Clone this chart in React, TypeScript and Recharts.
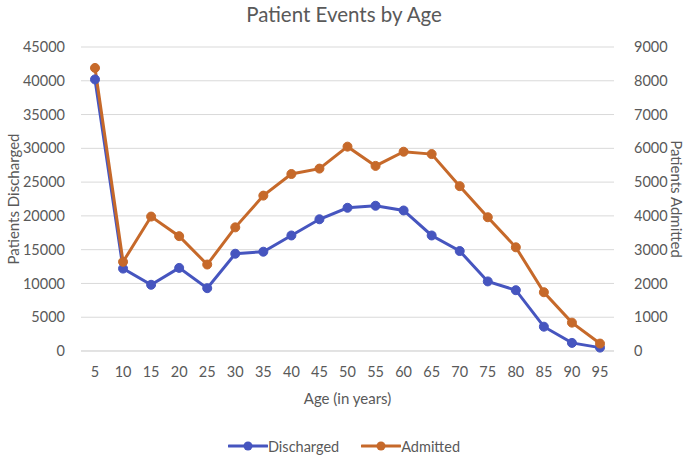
import { LineChart, Line, XAxis, YAxis, CartesianGrid, Legend } from 'recharts'

const AGES = ['5', '10', '15', '20', '25', '30', '35', '40', '45', '50', '55', '60', '65', '70', '75', '80', '85', '90', '95']
const DISCHARGED = [40200, 12200, 9800, 12300, 9300, 14400, 14700, 17100, 19500, 21200, 21500, 20800, 17100, 14800, 10300, 9000, 3600, 1200, 500]
const ADMITTED = [8380, 2640, 3980, 3400, 2560, 3660, 4600, 5240, 5400, 6050, 5480, 5900, 5830, 4880, 3960, 3070, 1740, 840, 220]
const LEFT_TICKS = [0, 5000, 10000, 15000, 20000, 25000, 30000, 35000, 40000, 45000]
const RIGHT_TICKS = [0, 1000, 2000, 3000, 4000, 5000, 6000, 7000, 8000, 9000]

const BLUE = '#4655BF'
const ORANGE = '#C6692A'
const TEXT = '#595959'
const GRID = '#d9d9d9'
const FONT = 'Lato, "Open Sans", sans-serif'

const data = AGES.map((age, i) => ({
  age,
  discharged: DISCHARGED[i],
  admitted: ADMITTED[i],
}))

function LegendContent() {
  const items = [
    { name: 'Discharged', color: BLUE },
    { name: 'Admitted', color: ORANGE },
  ]
  return (
    <div style={{ display: 'flex', justifyContent: 'center', gap: 22, fontFamily: FONT, fontSize: 14.5, color: TEXT, height: 20, alignItems: 'center' }}>
      {items.map((it) => (
        <div key={it.name} style={{ display: 'flex', alignItems: 'center' }}>
          <svg width={40} height={12}>
            <line x1={1} y1={6} x2={39} y2={6} stroke={it.color} strokeWidth={3} strokeLinecap="round" />
            <circle cx={20} cy={6} r={4.5} fill={it.color} />
          </svg>
          <span>{it.name}</span>
        </div>
      ))}
    </div>
  )
}

export default function App() {
  return (
    <div style={{ position: 'absolute', left: 0, top: 0, width: 688, height: 456, background: '#fff', fontFamily: FONT }}>
      <div style={{ position: 'absolute', top: 0, left: 0, width: 688, textAlign: 'center', fontSize: 20.5, color: TEXT, lineHeight: '28px' }}>
        Patient Events by Age
      </div>
      <LineChart width={688} height={456} data={data} margin={{ top: 47, right: 0, bottom: 0, left: 0 }}>
        <CartesianGrid yAxisId="left" vertical={false} stroke={GRID} strokeWidth={1} />
        <XAxis
          dataKey="age"
          stroke={GRID}
          tickLine={false}
          padding={{ left: 14, right: 14 }}
          tick={{ fill: TEXT, fontSize: 14.5 }}
          tickMargin={10}
          height={85}
          label={{ value: 'Age (in years)', position: 'insideBottom', offset: 32, fill: TEXT, fontSize: 15 }}
        />
        <YAxis
          yAxisId="left"
          domain={[0, 45000]}
          ticks={LEFT_TICKS}
          axisLine={false}
          tickLine={false}
          tick={{ fill: TEXT, fontSize: 14.5 }}
          tickMargin={10}
          width={81}
          label={{ value: 'Patients Discharged', angle: -90, position: 'insideLeft', offset: 14, fill: TEXT, fontSize: 15, style: { textAnchor: 'middle' } }}
        />
        <YAxis
          yAxisId="right"
          orientation="right"
          domain={[0, 9000]}
          ticks={RIGHT_TICKS}
          axisLine={false}
          tickLine={false}
          tick={{ fill: TEXT, fontSize: 14.5 }}
          tickMargin={14}
          width={74}
          label={{ value: 'Patients Admitted', angle: 90, position: 'insideRight', offset: 12, fill: TEXT, fontSize: 15, style: { textAnchor: 'middle' } }}
        />
        <Legend verticalAlign="bottom" height={20} content={<LegendContent />} />
        <Line
          yAxisId="left"
          dataKey="discharged"
          name="Discharged"
          stroke={BLUE}
          strokeWidth={3}
          dot={{ r: 4.5, fill: BLUE, stroke: BLUE, strokeWidth: 1 }}
          isAnimationActive={false}
        />
        <Line
          yAxisId="right"
          dataKey="admitted"
          name="Admitted"
          stroke={ORANGE}
          strokeWidth={3}
          dot={{ r: 4.5, fill: ORANGE, stroke: ORANGE, strokeWidth: 1 }}
          isAnimationActive={false}
        />
      </LineChart>
    </div>
  )
}
